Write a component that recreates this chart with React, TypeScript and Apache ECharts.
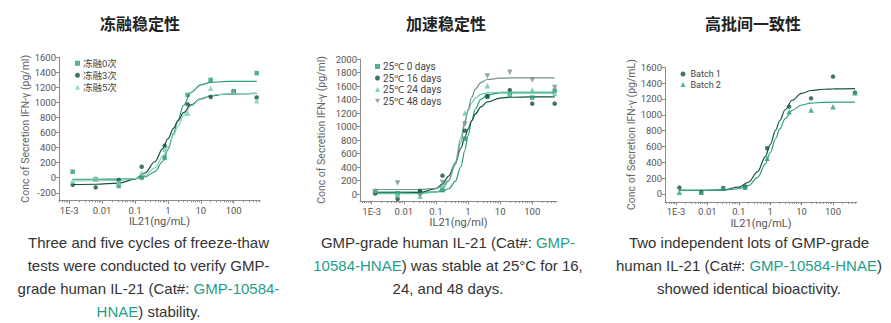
import React, { useEffect, useRef } from "react";
import * as echarts from "echarts";

// ---------- data ----------
const conc = [0.00128, 0.0064, 0.032, 0.16, 0.8, 4, 20, 100, 500];

const xTickValues = [0.001, 0.01, 0.1, 1, 10, 100];
const xTickLabels = ["1E-3", "0.01", "0.1", "1", "10", "100"];

// Chart 1 – freeze/thaw
const c1Names = ["冻融0次", "冻融3次", "冻融5次"];
const c1Thaw0 = [80, -20, -110, 0, 266, 1100, 1300, 1150, 1390];
const c1Thaw3 = [-95, -128, -30, 146, 425, 975, 1073, 1140, 1065];
const c1Thaw5 = [-45, 0, -60, 66, 377, 855, 1188, 1150, 1024];
const c1FitX = [0.00128, 0.0064, 0.032, 0.1, 0.2, 0.4, 0.7, 1, 1.5, 2, 3, 5, 10, 20, 50, 100, 500];
const c1Fit0 = [-20, -20, -19, -11, 10, 79, 219, 370, 592, 759, 963, 1131, 1234, 1266, 1278, 1280, 1280];
const c1Fit3 = [-90, -87, -71, -18, 63, 212, 387, 515, 659, 753, 864, 967, 1048, 1088, 1109, 1115, 1120];
const c1Fit5 = [-40, -40, -34, -12, 32, 131, 279, 406, 568, 682, 823, 953, 1050, 1093, 1112, 1117, 1120];
const c1YTicks = [-200, 0, 200, 400, 600, 800, 1000, 1200, 1400, 1600];

// Chart 2 – accelerated stability
const c2Names = ["25℃ 0 days", "25℃ 16 days", "25℃ 24 days", "25℃ 48 days"];
const c2Day0 = [40, 15, 25, 60, 820, 1440, 1470, 1430, 1530];
const c2Day16 = [10, -70, 50, 275, 940, 1450, 1540, 1340, 1340];
const c2Day24 = [60, -5, -30, 130, 1200, 1605, 1490, 1540, 1490];
const c2Day48 = [30, 165, -20, 175, 1040, 1750, 1805, 1690, 1580];
const c2FitX = [0.00128, 0.0064, 0.032, 0.1, 0.16, 0.25, 0.4, 0.6, 0.8, 1, 1.3, 1.7, 2.5, 4, 10, 20, 100, 500];
const c2Fit0 = [30, 30, 30, 35, 44, 81, 189, 410, 653, 865, 1092, 1264, 1404, 1470, 1497, 1499, 1500, 1500];
const c2Fit16 = [15, 15, 26, 83, 152, 269, 464, 682, 845, 964, 1086, 1188, 1292, 1366, 1422, 1434, 1440, 1440];
const c2Fit24 = [10, 10, 11, 31, 75, 193, 476, 841, 1088, 1235, 1353, 1426, 1477, 1500, 1509, 1510, 1510, 1510];
const c2Fit48 = [70, 70, 70, 86, 120, 207, 431, 772, 1054, 1252, 1433, 1555, 1650, 1697, 1717, 1720, 1720, 1720];
const c2YTicks = [0, 200, 400, 600, 800, 1000, 1200, 1400, 1600, 1800, 2000];

// Chart 3 – batch consistency
const c3Names = ["Batch 1", "Batch 2"];
const c3Batch1 = [80, 25, 75, 93, 577, 1103, 1208, 1482, 1280];
const c3Batch2 = [21, 21, 72, 84, 450, 1040, 1061, 1103, 1280];
const c3FitX = [0.00128, 0.0064, 0.032, 0.1, 0.2, 0.4, 0.7, 1, 1.5, 2, 3, 5, 10, 20, 50, 100, 500];
const c3Fit1 = [45, 46, 53, 86, 147, 283, 473, 625, 806, 925, 1064, 1184, 1271, 1307, 1323, 1328, 1330];
const c3Fit2 = [45, 45, 48, 66, 105, 209, 376, 522, 701, 818, 951, 1057, 1124, 1148, 1157, 1159, 1160];
const c3YTicks = [0, 200, 400, 600, 800, 1000, 1200, 1400, 1600];

const titles = ["冻融稳定性", "加速稳定性", "高批间一致性"];
const captions = [
  [
    "Three and five cycles of freeze-thaw",
    "tests were conducted to verify GMP-",
    "grade human IL-21 (Cat#: {l|GMP-10584-}",
    "{l|HNAE}) stability.",
  ],
  [
    "GMP-grade human IL-21 (Cat#: {l|GMP-}",
    "{l|10584-HNAE}) was stable at 25°C for 16,",
    "24, and 48 days.",
  ],
  [
    "Two independent lots of GMP-grade",
    "human IL-21 (Cat#: {l|GMP-10584-HNAE})",
    "showed identical bioactivity.",
  ],
];
const yNames = [
  "Conc of Secretion IFN-γ (pg/ml)",
  "Conc of Secretion IFN-γ (pg/ml)",
  "Conc of Secretion IFN-γ (pg/mL)",
];
const xNames = ["IL21(ng/mL)", "IL21(ng/ml)", "IL21(ng/mL)"];

// ---------- styling ----------
const AX = "#8c8c8c";
const LBL = "#555";
const FONT = "Roboto, 'Noto Sans', sans-serif";
const CJK = "'Noto Sans CJK SC', sans-serif";
const LEG_CJK = "Roboto, 'Noto Sans CJK SC', sans-serif";
const CAP_FONT = "'Liberation Sans', Arial, sans-serif";

const panels = [
  { grid: { left: 59, top: 57.3, width: 201, height: 143 }, xMin: 0.000491, xMax: 631, yMin: -300, yMax: 1600, yTicks: c1YTicks, nameGap: 25.5, center: 148.5 },
  { grid: { left: 360, top: 59, width: 197, height: 142 }, xMin: 0.000432, xMax: 590, yMin: -100, yMax: 2000, yTicks: c2YTicks, nameGap: 33, center: 448 },
  { grid: { left: 665, top: 67.3, width: 192, height: 134.6 }, xMin: 0.000447, xMax: 581, yMin: -100, yMax: 1600, yTicks: c3YTicks, nameGap: 27, center: 749 },
];

function minorTicks(min: number, max: number) {
  const out: number[] = [];
  for (let e = -4; e <= 3; e++) {
    for (let k = 2; k <= 9; k++) {
      const v = k * Math.pow(10, e);
      if (v > min && v < max) out.push(v);
    }
  }
  return out;
}

const fmtX = (v: number) => {
  const i = xTickValues.findIndex((t) => Math.abs(Math.log10(t) - Math.log10(v)) < 1e-6);
  return i >= 0 ? xTickLabels[i] : "";
};
const fmtY = (v: number) => String(Math.round(v));

function pairs(xs: number[], ys: number[]) {
  return xs.map((x, i) => [x, ys[i]]);
}

function scatter(name: string, idx: number, ys: number[], symbol: string, color: string, size = 4.5) {
  return {
    type: "scatter",
    name,
    xAxisIndex: idx * 2,
    yAxisIndex: idx,
    data: pairs(conc, ys),
    symbol,
    symbolSize: size,
    itemStyle: { color },
    z: 5,
  };
}

function fit(name: string, idx: number, xs: number[], ys: number[], color: string) {
  return {
    type: "line",
    name,
    xAxisIndex: idx * 2,
    yAxisIndex: idx,
    data: pairs(xs, ys),
    showSymbol: false,
    symbol: "none",
    smooth: 0.35,
    smoothMonotone: "x",
    lineStyle: { color, width: 1.2 },
    itemStyle: { color },
    z: 3,
  };
}

const INV_TRI = "path://M0,0 L10,0 L5,9 Z";

export default function App() {
  const ref = useRef<HTMLDivElement>(null);

  useEffect(() => {
    document.body.style.margin = "0";
    if (!ref.current) return;
    const chart = echarts.init(ref.current, undefined, { renderer: "svg" });

    const xAxis: any[] = [];
    const yAxis: any[] = [];
    panels.forEach((p, i) => {
      xAxis.push({
        type: "log",
        logBase: 10,
        gridIndex: i,
        position: "bottom",
        min: p.xMin,
        max: p.xMax,
        axisLine: { show: true, onZero: false, lineStyle: { color: AX, width: 1 } },
        axisTick: { show: true, length: 3.5, customValues: xTickValues, lineStyle: { color: AX } },
        axisLabel: { customValues: xTickValues, formatter: fmtX, color: LBL, fontSize: 9.5, margin: 5, fontFamily: FONT },
        splitLine: { show: false },
        minorTick: { show: false },
        name: xNames[i],
        nameLocation: "middle",
        nameGap: 16,
        nameTextStyle: { color: LBL, fontSize: 11, fontFamily: FONT },
      });
      xAxis.push({
        type: "log",
        logBase: 10,
        gridIndex: i,
        position: "bottom",
        min: p.xMin,
        max: p.xMax,
        axisLine: { show: false, onZero: false },
        axisTick: { show: true, length: 2, customValues: minorTicks(p.xMin, p.xMax), lineStyle: { color: AX } },
        axisLabel: { show: false },
        splitLine: { show: false },
      });
      yAxis.push({
        type: "value",
        gridIndex: i,
        min: p.yMin,
        max: p.yMax,
        axisLine: { show: true, onZero: false, lineStyle: { color: AX, width: 1 } },
        axisTick: { show: true, length: 3, customValues: p.yTicks, lineStyle: { color: AX } },
        axisLabel: { customValues: p.yTicks, formatter: fmtY, color: LBL, fontSize: 9.5, margin: 3, fontFamily: FONT },
        splitLine: { show: false },
        name: yNames[i],
        nameLocation: "middle",
        nameGap: p.nameGap,
        nameTextStyle: { color: "#666", fontSize: 10.5, fontFamily: FONT },
      });
    });

    const c1Colors = ["#2c9a7a", "#164f3f", "#7fd0b3"];
    const c2Colors = ["#2a9a78", "#0f4f3e", "#62c9a2", "#73948a"];
    const c3Colors = ["#175545", "#2e9e84"];

    const series: any[] = [
      fit("f0", 0, c1FitX, c1Fit0, c1Colors[0]),
      fit("f3", 0, c1FitX, c1Fit3, c1Colors[1]),
      fit("f5", 0, c1FitX, c1Fit5, c1Colors[2]),
      scatter(c1Names[0], 0, c1Thaw0, "rect", c1Colors[0], 4.5),
      scatter(c1Names[1], 0, c1Thaw3, "circle", c1Colors[1], 4.5),
      scatter(c1Names[2], 0, c1Thaw5, "triangle", c1Colors[2], 5.5),

      fit("g0", 1, c2FitX, c2Fit0, c2Colors[0]),
      fit("g16", 1, c2FitX, c2Fit16, c2Colors[1]),
      fit("g24", 1, c2FitX, c2Fit24, c2Colors[2]),
      fit("g48", 1, c2FitX, c2Fit48, c2Colors[3]),
      scatter(c2Names[0], 1, c2Day0, "rect", c2Colors[0], 4.5),
      scatter(c2Names[1], 1, c2Day16, "circle", c2Colors[1], 4.5),
      scatter(c2Names[2], 1, c2Day24, "triangle", c2Colors[2], 5.5),
      scatter(c2Names[3], 1, c2Day48, INV_TRI, c2Colors[3], 5.5),

      fit("h1", 2, c3FitX, c3Fit1, c3Colors[0]),
      fit("h2", 2, c3FitX, c3Fit2, c3Colors[1]),
      scatter(c3Names[0], 2, c3Batch1, "circle", c3Colors[0], 4.5),
      scatter(c3Names[1], 2, c3Batch2, "triangle", c3Colors[1], 5.5),
    ];

    const legendBase = {
      orient: "vertical",
      itemWidth: 5,
      itemHeight: 5,
      padding: 0,
      selectedMode: false,
    };
    const legend = [
      { ...legendBase, left: 75, top: 58.5, itemGap: 2.5, data: c1Names, textStyle: { fontSize: 9.5, color: "#444", fontFamily: LEG_CJK, padding: [0, 0, 0, -2] } },
      { ...legendBase, left: 375, top: 61.5, itemGap: 1.5, data: c2Names, textStyle: { fontSize: 10, lineHeight: 9.5, color: "#444", fontFamily: FONT, padding: [0, 0, 0, -2] } },
      { ...legendBase, left: 680.5, top: 69.5, itemGap: 1.5, data: c3Names, textStyle: { fontSize: 9, lineHeight: 9, color: "#444", fontFamily: FONT } },
    ];

    const graphic: any[] = [];
    titles.forEach((t, i) => {
      graphic.push({
        type: "text",
        x: panels[i].center - (i === 0 ? 8.5 : i === 1 ? 2 : -4),
        y: 23,
        style: { text: t, align: "center", verticalAlign: "middle", fontSize: 16, fontWeight: "bold", fontFamily: CJK, fill: "#222" },
      });
    });
    captions.forEach((lines, i) => {
      lines.forEach((line, j) => {
        graphic.push({
          type: "text",
          x: panels[i].center,
          y: 242 + j * 23,
          style: {
            text: line,
            align: "center",
            verticalAlign: "middle",
            fontSize: 15,
            fontFamily: CAP_FONT,
            fill: "#333",
            rich: { l: { fill: "#1f9e89", fontSize: 15, fontFamily: CAP_FONT } },
          },
        });
      });
    });

    chart.setOption({
      animation: false,
      backgroundColor: "#ffffff",
      grid: panels.map((p) => ({ ...p.grid, containLabel: false })),
      xAxis,
      yAxis,
      legend,
      series,
      graphic,
    });

    return () => chart.dispose();
  }, []);

  return <div ref={ref} style={{ width: 891, height: 323 }} />;
}
